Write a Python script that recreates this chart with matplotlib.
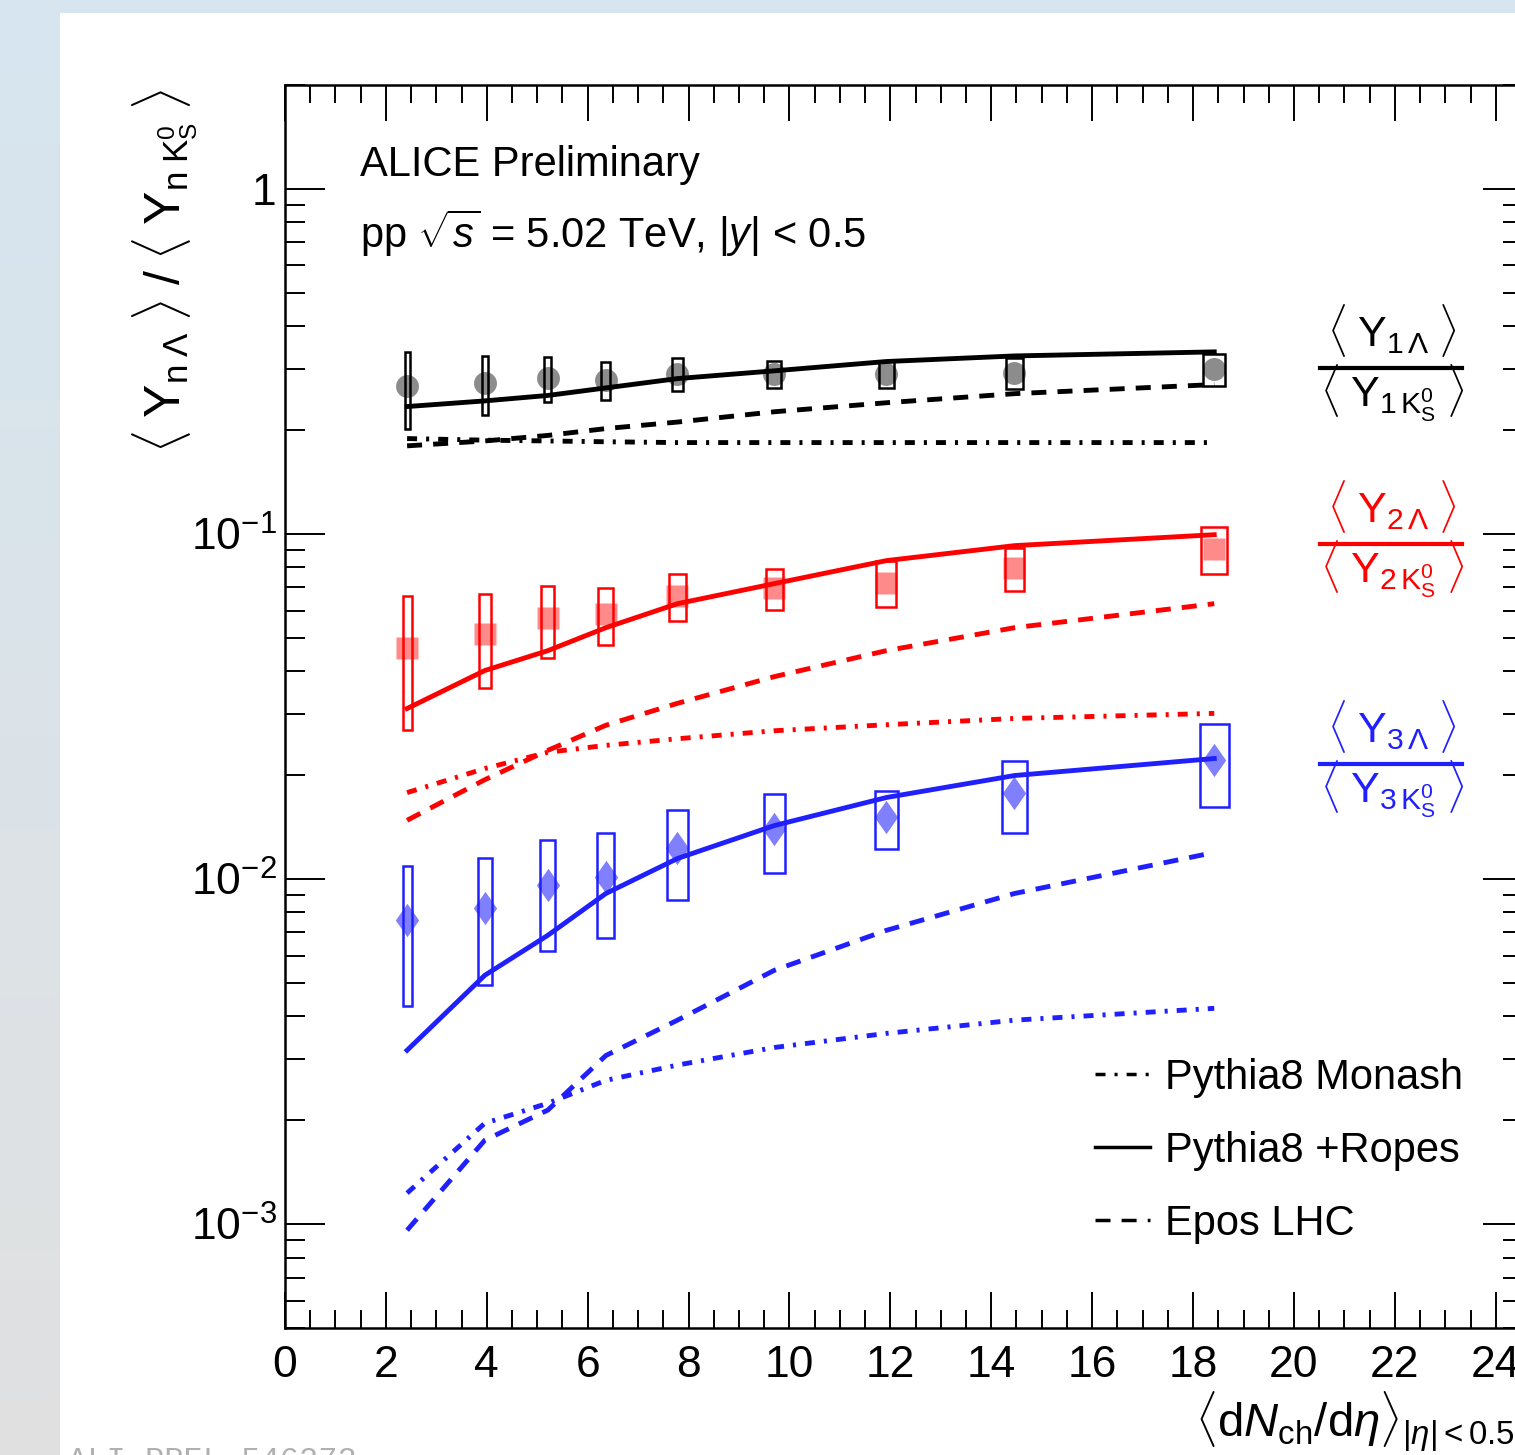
import numpy as np
import matplotlib
matplotlib.use('Agg')
import matplotlib.pyplot as plt
from matplotlib.lines import Line2D
from matplotlib.patches import Rectangle
from matplotlib.ticker import MultipleLocator, LogLocator, NullFormatter, FuncFormatter

plt.rcParams['font.family'] = ['Liberation Sans', 'DejaVu Sans']
plt.rcParams['mathtext.fontset'] = 'custom'
plt.rcParams['mathtext.rm'] = 'Liberation Sans'
plt.rcParams['mathtext.it'] = 'Liberation Sans:italic'
plt.rcParams['mathtext.bf'] = 'Liberation Sans:bold'
plt.rcParams['lines.scale_dashes'] = False

W, H = 1515, 1455


def fx(px):
    return px / W


def fy(py):
    return 1 - py / H


# multiplicity classes, <dNch/deta>
dndeta = [2.42, 3.96, 5.21, 6.36, 7.78, 9.70, 11.92, 14.46, 18.42]

# measured ratios <Y_nLambda>/<Y_nK0S> with systematic errors and box widths
ratio_1 = [0.269, 0.274, 0.284, 0.280, 0.291, 0.291, 0.291, 0.293, 0.301]
syst_1 = [0.067, 0.053, 0.042, 0.035, 0.032, 0.026, 0.027, 0.030, 0.032]
boxw_1 = [0.10, 0.12, 0.14, 0.18, 0.20, 0.28, 0.30, 0.34, 0.44]

ratio_2 = [0.0466, 0.0514, 0.0572, 0.0588, 0.0663, 0.0699, 0.0723, 0.0798, 0.0906]
syst_2 = [0.0196, 0.0157, 0.0134, 0.0110, 0.0103, 0.0095, 0.0110, 0.0115, 0.0142]
boxw_2 = [0.18, 0.24, 0.26, 0.30, 0.32, 0.34, 0.40, 0.38, 0.52]

ratio_3 = [0.00759, 0.00822, 0.00958, 0.01017, 0.01227, 0.01401, 0.01509, 0.01781, 0.0222]
syst_3 = [0.0033, 0.0033, 0.0034, 0.0034, 0.0036, 0.0036, 0.0029, 0.0042, 0.0060]
boxw_3 = [0.18, 0.28, 0.30, 0.34, 0.40, 0.42, 0.46, 0.48, 0.58]

# model predictions
ropes_1 = [0.234, 0.243, 0.252, 0.265, 0.282, 0.297, 0.316, 0.328, 0.337]
epos_1 = [0.180, 0.186, 0.193, 0.202, 0.211, 0.226, 0.240, 0.255, 0.271]
monash_1 = [0.189, 0.187, 0.186, 0.185, 0.184, 0.184, 0.184, 0.184, 0.184]

ropes_2 = [0.0312, 0.0402, 0.0459, 0.0535, 0.0628, 0.0718, 0.0837, 0.0925, 0.0995]
epos_2 = [0.0148, 0.0194, 0.0236, 0.0279, 0.0323, 0.0386, 0.0459, 0.0535, 0.0628]
monash_2 = [0.0178, 0.0209, 0.0233, 0.0244, 0.0255, 0.0269, 0.0280, 0.0292, 0.0302]

ropes_3 = [0.00319, 0.00526, 0.00687, 0.00908, 0.01147, 0.01429, 0.01723, 0.01995, 0.02235]
epos_3 = [0.00096, 0.00175, 0.00214, 0.00308, 0.00390, 0.00544, 0.00710, 0.00908, 0.01194]
monash_3 = [0.00123, 0.00196, 0.00224, 0.00261, 0.00289, 0.00325, 0.00357, 0.00390, 0.00422]

model_names = ['Pythia8 Monash', 'Pythia8 +Ropes', 'Epos LHC']

monash_dash = (7.2, 6.5, 2.2, 6.5)
epos_dash = (10.8, 8.0)

diamond = [(0, 1), (0.7, 0), (0, -1), (-0.7, 0), (0, 1)]

series = [
    # (n, line colour, marker colour, marker, size, ratio, syst, box width, ropes, epos, monash, fraction line y)
    (1, 'black', '#8c8c8c', 'o', 16.5, ratio_1, syst_1, boxw_1, ropes_1, epos_1, monash_1, 368),
    (2, '#ff0000', '#ff8a8a', 's', 16.5, ratio_2, syst_2, boxw_2, ropes_2, epos_2, monash_2, 544),
    (3, '#2020ff', '#8080ff', diamond, 24, ratio_3, syst_3, boxw_3, ropes_3, epos_3, monash_3, 764),
]

fig = plt.figure(figsize=(W / 100, H / 100), dpi=100)
fig.patch.set_facecolor('#dfe5e9')

# soft backdrop behind the white panel
bg = fig.add_axes([0, 0, 1, 1], zorder=-10)
t = np.linspace(0, 1, 200)[:, None, None]
top_c = np.array([0.84, 0.90, 0.94])
bot_c = np.array([0.88, 0.88, 0.88])
grad = top_c * (1 - t) + bot_c * t
grad = np.repeat(grad, 20, axis=1)
bg.imshow(grad, extent=[0, 1, 0, 1], aspect='auto')
bg.axis('off')
fig.add_artist(Rectangle((fx(60), 0), 1 - fx(60), fy(13), facecolor='white',
                         edgecolor='none', transform=fig.transFigure, zorder=-5))

ax = fig.add_axes([fx(285), fy(1328), (1523 - 285) / W, (1328 - 85) / H])
ax.set_yscale('log')
ax.set_xlim(0, 24.54)
ax.set_ylim(5e-4, 2.0)

for n, lc, mc, mk, ms, ratio, syst, boxw, ropes, epos, monash, ly in series:
    ax.plot(dndeta, ratio, linestyle='none', marker=mk, ms=ms, color=mc, mec='none', zorder=3)
    for x, y, s, w in zip(dndeta, ratio, syst, boxw):
        ax.add_patch(Rectangle((x - w / 2, y - s), w, 2 * s, fill=False,
                               edgecolor=lc, lw=1.8, zorder=4))
    ax.plot(dndeta, ropes, color=lc, lw=3.5, zorder=5)
    ax.plot(dndeta, epos, color=lc, lw=3.5, dashes=epos_dash, dash_capstyle='butt', zorder=5)
    ax.plot(dndeta, monash, color=lc, lw=3.5, dashes=monash_dash, dash_capstyle='butt', zorder=5)

    # ratio label as a fraction on the right
    num = r'$\langle\;\mathrm{Y}_{%d\,\Lambda}\;\rangle$' % n
    den = r'$\langle\;\mathrm{Y}_{%d\,\mathrm{K}^{0}_{\mathrm{S}}}\;\rangle$' % n
    fig.text(fx(1392), fy(ly - 21), num, color=lc, fontsize=31, ha='center', va='baseline')
    fig.text(fx(1392), fy(ly + 39), den, color=lc, fontsize=31, ha='center', va='baseline')
    fig.add_artist(Line2D([fx(1320), fx(1462)], [fy(ly), fy(ly)], color=lc, lw=3,
                          transform=fig.transFigure))

# axes styling
ax.xaxis.set_major_locator(MultipleLocator(2))
ax.xaxis.set_minor_locator(MultipleLocator(0.5))
ax.yaxis.set_major_locator(LogLocator(base=10))
ax.yaxis.set_minor_locator(LogLocator(base=10, subs=np.arange(2, 10)))
ax.yaxis.set_minor_formatter(NullFormatter())


def ylab(v, pos):
    e = int(round(np.log10(v)))
    return '1' if e == 0 else r'$10^{%d}$' % e


ax.yaxis.set_major_formatter(FuncFormatter(ylab))
ax.tick_params(which='both', direction='in', top=True, right=True, width=1.4, labelsize=32)
ax.tick_params(axis='x', which='major', length=26, pad=12)
ax.tick_params(axis='x', which='minor', length=13)
ax.tick_params(axis='y', which='major', length=28.8, pad=6)
ax.tick_params(axis='y', which='minor', length=14.4)
for sp in ax.spines.values():
    sp.set_linewidth(1.8)

fig.text(fx(130), fy(88),
         r'$\langle\;\mathrm{Y}_{\mathrm{n}\;\Lambda}\;\rangle\;/\;\langle\;\mathrm{Y}_{\mathrm{n}\;\mathrm{K}^{0}_{\mathrm{S}}}\;\rangle$',
         rotation=90, ha='left', va='top', fontsize=36)
fig.text(fx(1195), fy(1437),
         r'$\langle\mathrm{d}N_{\mathrm{ch}}/\mathrm{d}\eta\rangle_{|\eta|<0.5}$',
         ha='left', va='baseline', fontsize=34)

fig.text(fx(360), fy(176), 'ALICE Preliminary', fontsize=30, va='baseline')
fig.text(fx(360), fy(248), r'pp $\sqrt{s}$ = 5.02 TeV, $|y|$ < 0.5', fontsize=30, va='baseline')

handles = [
    Line2D([], [], color='black', lw=2.5, dashes=monash_dash),
    Line2D([], [], color='black', lw=2.5),
    Line2D([], [], color='black', lw=2.5, dashes=epos_dash),
]
ax.legend(handles, model_names, loc='upper left', bbox_to_anchor=(fx(1095), fy(1058)),
          bbox_transform=fig.transFigure, frameon=False, fontsize=30,
          handlelength=1.32, handletextpad=0.36, labelspacing=0.79,
          borderpad=0, borderaxespad=0)

fig.text(fx(68), fy(1446), 'ALI-PREL-546272', family='Liberation Mono', fontsize=23,
         color='#b0b0b0', va='top')

fig.savefig('out.png', dpi=100)
